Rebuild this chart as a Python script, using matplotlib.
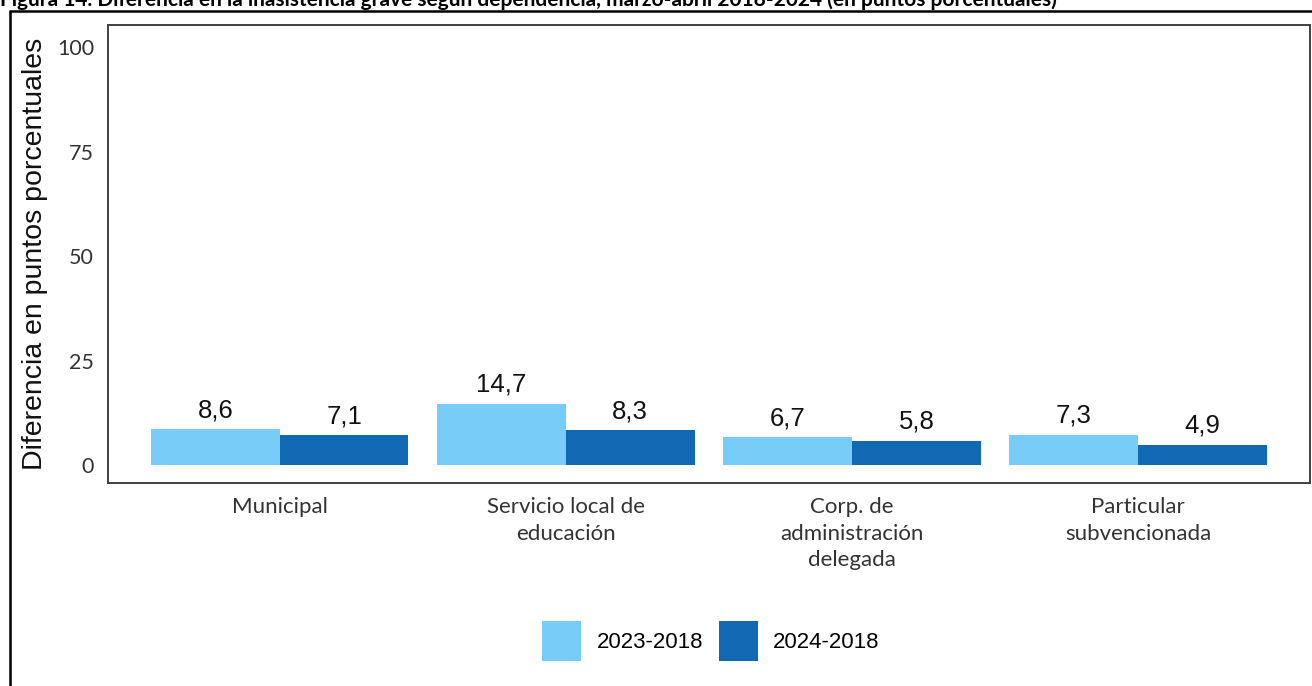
import matplotlib
matplotlib.use("Agg")
import matplotlib.pyplot as plt
from matplotlib.lines import Line2D
from matplotlib.patches import Patch
import numpy as np

categories = ["Municipal", "Servicio local de\neducación", "Corp. de\nadministración\ndelegada", "Particular\nsubvencionada"]
series_names = ["2023-2018", "2024-2018"]
values_2023 = [8.6, 14.7, 6.7, 7.3]
values_2024 = [7.1, 8.3, 5.8, 4.9]
yticks = [0, 25, 50, 75, 100]
title = "Figura 14. Diferencia en la inasistencia grave según dependencia, marzo-abril 2018-2024 (en puntos porcentuales)"
ylabel = "Diferencia en puntos porcentuales"

c_light = "#78cdf8"
c_dark = "#1169b3"

W, H = 1312, 686
fig = plt.figure(figsize=(W / 100, H / 100), dpi=100)
ax = fig.add_axes([108 / W, 1 - 483 / H, (1310 - 108) / W, (483 - 25) / H])

x = np.arange(len(categories))
bw = 0.45
b1 = ax.bar(x - bw / 2, values_2023, bw, color=c_light, label=series_names[0])
b2 = ax.bar(x + bw / 2, values_2024, bw, color=c_dark, label=series_names[1])

for bars, vals in ((b1, values_2023), (b2, values_2024)):
    for rect, v in zip(bars, vals):
        ax.annotate(f"{v:.1f}".replace(".", ","),
                    (rect.get_x() + rect.get_width() / 2, v),
                    xytext=(0, 5), textcoords="offset points",
                    ha="center", va="bottom", fontsize=18.5,
                    family="Liberation Sans", color="#111111")

ax.set_xlim(-0.6, 3.6)
ax.set_ylim(-4.3, 105.3)
ax.set_yticks(yticks)
ax.set_yticklabels([str(t) for t in yticks], family="Lato", fontsize=15.5, color="#333333")
ax.set_xticks(x)
ax.set_xticklabels(categories, family="Lato", fontsize=16, color="#333333", linespacing=1.42)
ax.tick_params(axis="both", length=0)
ax.tick_params(axis="y", pad=10)
ax.tick_params(axis="x", pad=10)
for s in ax.spines.values():
    s.set_color("#404040")
    s.set_linewidth(1.4)

fig.text(35 / W, 1 - 254 / H, ylabel, rotation=90, ha="center", va="center",
         family="Liberation Sans", fontsize=20.5, color="#111111")

fig.text(0.0, 1 - 6 / H, title, ha="left", va="baseline", family="Lato",
         fontweight="bold", fontsize=15, color="black")

# outer frame
fig.add_artist(Line2D([9 / W, 1.0], [1 - 11 / H, 1 - 11 / H], transform=fig.transFigure,
                      color="black", lw=1.8, solid_capstyle="butt"))
fig.add_artist(Line2D([10 / W, 10 / W], [1 - 11 / H, 0.0], transform=fig.transFigure,
                      color="black", lw=1.8, solid_capstyle="butt"))

handles = [Patch(facecolor=c_light, edgecolor="none"), Patch(facecolor=c_dark, edgecolor="none")]
fig.legend(handles, series_names, loc="center", bbox_to_anchor=(711 / W, 1 - 641 / H),
           ncol=2, frameon=False, prop={"family": "Liberation Sans", "size": 16},
           handlelength=1.75, handleheight=2.4, handletextpad=0.7, columnspacing=0.7)

fig.savefig("out.png", dpi=100)
